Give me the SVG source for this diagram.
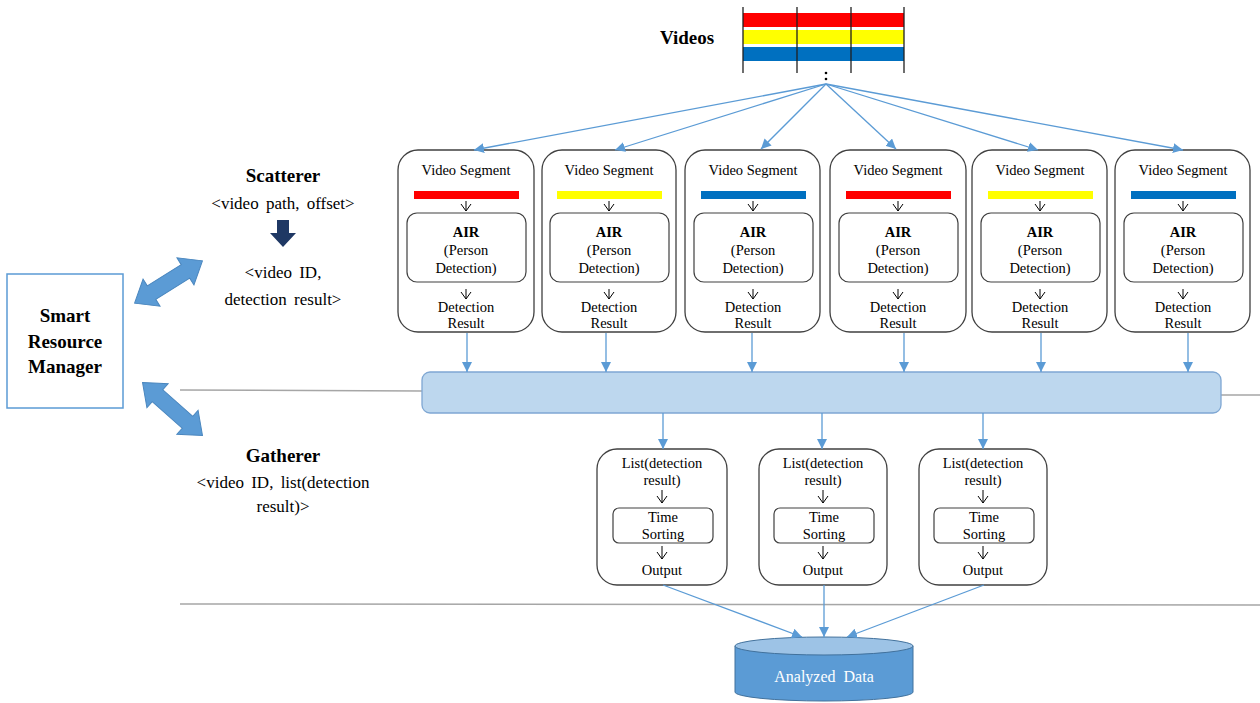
<svg xmlns="http://www.w3.org/2000/svg" width="1260" height="703" viewBox="0 0 1260 703" font-family="'Liberation Serif', 'DejaVu Serif', serif">
  <defs>
    <marker id="tri" viewBox="0 0 10 10" refX="10" refY="5" markerWidth="10" markerHeight="10" markerUnits="userSpaceOnUse" orient="auto">
      <path d="M0,0 L10,5 L0,10 z" fill="#5B9BD5"/>
    </marker>
    <polygon id="dbl" points="-40,0 -20,-16 -20,-8 20,-8 20,-16 40,0 20,16 20,8 -20,8 -20,16" fill="#5B9BD5" stroke="#4A86BE" stroke-width="1"/>
  </defs>
  <style>
    text { font-family: 'Liberation Serif', 'DejaVu Serif', serif; fill: #000; text-anchor: middle; }
    .b { font-weight: bold; }
    .seg { font-size: 14.5px; }
    .lbl { font-size: 17px; word-spacing: 3px; }
    .head { font-size: 19px; font-weight: bold; }
    .box { fill: #fff; stroke: #404040; stroke-width: 1.3; }
    .inner { fill: #fff; stroke: #404040; stroke-width: 1.2; }
    .tick { fill: none; stroke: #000; stroke-width: 1; }
    .conn { stroke: #5B9BD5; stroke-width: 1.3; fill: none; marker-end: url(#tri); }
    .rule { stroke: #A6A6A6; stroke-width: 1.5; fill: none; }
  </style>
  <rect width="1260" height="703" fill="#fff"/>

  <!-- tier separators -->
  <g id="rules">
    <line class="rule" x1="180" y1="390" x2="422" y2="391"/>
    <line class="rule" x1="1221" y1="395" x2="1260" y2="395"/>
    <line class="rule" x1="180" y1="604" x2="1260" y2="605"/>
  </g>

  <!-- video stream strips -->
  <g id="videos">
    <text class="head" x="687" y="44">Videos</text>
    <rect x="743" y="13" width="161" height="14" fill="#FF0000"/>
    <rect x="743" y="30" width="161" height="14" fill="#FFFF00"/>
    <rect x="743" y="47" width="161" height="14" fill="#0070C0"/>
    <g stroke="#202020" stroke-width="1.3">
      <line x1="743" y1="7" x2="743" y2="73"/>
      <line x1="797" y1="7" x2="797" y2="73"/>
      <line x1="851" y1="7" x2="851" y2="73"/>
      <line x1="904" y1="7" x2="904" y2="73"/>
    </g>
    <circle cx="826" cy="73" r="1.3" fill="#000"/>
    <circle cx="826" cy="79" r="1.3" fill="#000"/>
  </g>

  <!-- smart resource manager -->
  <g id="srm">
    <rect x="7" y="274" width="116" height="134" fill="#fff" stroke="#5B9BD5" stroke-width="1.5"/>
    <text class="head" x="65" y="322">Smart</text>
    <text class="head" x="65" y="348">Resource</text>
    <text class="head" x="65" y="373">Manager</text>
  </g>
  <g id="srm-links">
    <use href="#dbl" transform="translate(168.5,282) rotate(-32)"/>
    <use href="#dbl" transform="translate(172.5,409) rotate(41.5)"/>
  </g>

  <!-- scatterer / gatherer descriptions -->
  <g id="scatterer">
    <text class="head" x="283" y="182">Scatterer</text>
    <text class="lbl" x="283" y="209">&lt;video path, offset&gt;</text>
    <polygon points="277,220 289,220 289,233 296,233 283,247 270,233 277,233" fill="#1F3864"/>
    <text class="lbl" x="283" y="278">&lt;video ID,</text>
    <text class="lbl" x="283" y="305">detection result&gt;</text>
  </g>
  <g id="gatherer">
    <text class="head" x="283" y="462">Gatherer</text>
    <text class="lbl" x="283" y="488">&lt;video ID, list(detection</text>
    <text class="lbl" x="283" y="512">result)&gt;</text>
  </g>

  <!-- video segment workers -->
  <g id="seg1" transform="translate(398,0)">
    <rect class="box" x="0" y="150" width="136" height="182" rx="20"/>
    <text class="seg" x="68" y="175">Video Segment</text>
    <rect x="16" y="191" width="105" height="8" fill="#FF0000"/>
    <path class="tick" d="M68,201 V211 M63,204 L68,211 L73,204"/>
    <rect class="inner" x="9" y="213" width="119" height="69" rx="10"/>
    <text class="seg b" x="68" y="237">AIR</text>
    <text class="seg" x="68" y="255">(Person</text>
    <text class="seg" x="68" y="273">Detection)</text>
    <path class="tick" d="M68,289 V299 M63,292 L68,299 L73,292"/>
    <text class="seg" x="68" y="312">Detection</text>
    <text class="seg" x="68" y="328">Result</text>
  </g>
  <g id="seg2" transform="translate(542,0)">
    <rect class="box" x="0" y="150" width="134" height="182" rx="20"/>
    <text class="seg" x="67" y="175">Video Segment</text>
    <rect x="15" y="191" width="105" height="8" fill="#FFFF00"/>
    <path class="tick" d="M67,201 V211 M62,204 L67,211 L72,204"/>
    <rect class="inner" x="8" y="213" width="119" height="69" rx="10"/>
    <text class="seg b" x="67" y="237">AIR</text>
    <text class="seg" x="67" y="255">(Person</text>
    <text class="seg" x="67" y="273">Detection)</text>
    <path class="tick" d="M67,289 V299 M62,292 L67,299 L72,292"/>
    <text class="seg" x="67" y="312">Detection</text>
    <text class="seg" x="67" y="328">Result</text>
  </g>
  <g id="seg3" transform="translate(685,0)">
    <rect class="box" x="0" y="150" width="135" height="182" rx="20"/>
    <text class="seg" x="68" y="175">Video Segment</text>
    <rect x="16" y="191" width="105" height="8" fill="#0070C0"/>
    <path class="tick" d="M68,201 V211 M63,204 L68,211 L73,204"/>
    <rect class="inner" x="9" y="213" width="119" height="69" rx="10"/>
    <text class="seg b" x="68" y="237">AIR</text>
    <text class="seg" x="68" y="255">(Person</text>
    <text class="seg" x="68" y="273">Detection)</text>
    <path class="tick" d="M68,289 V299 M63,292 L68,299 L73,292"/>
    <text class="seg" x="68" y="312">Detection</text>
    <text class="seg" x="68" y="328">Result</text>
  </g>
  <g id="seg4" transform="translate(830,0)">
    <rect class="box" x="0" y="150" width="136" height="182" rx="20"/>
    <text class="seg" x="68" y="175">Video Segment</text>
    <rect x="16" y="191" width="105" height="8" fill="#FF0000"/>
    <path class="tick" d="M68,201 V211 M63,204 L68,211 L73,204"/>
    <rect class="inner" x="9" y="213" width="119" height="69" rx="10"/>
    <text class="seg b" x="68" y="237">AIR</text>
    <text class="seg" x="68" y="255">(Person</text>
    <text class="seg" x="68" y="273">Detection)</text>
    <path class="tick" d="M68,289 V299 M63,292 L68,299 L73,292"/>
    <text class="seg" x="68" y="312">Detection</text>
    <text class="seg" x="68" y="328">Result</text>
  </g>
  <g id="seg5" transform="translate(972,0)">
    <rect class="box" x="0" y="150" width="135" height="182" rx="20"/>
    <text class="seg" x="68" y="175">Video Segment</text>
    <rect x="16" y="191" width="105" height="8" fill="#FFFF00"/>
    <path class="tick" d="M68,201 V211 M63,204 L68,211 L73,204"/>
    <rect class="inner" x="9" y="213" width="119" height="69" rx="10"/>
    <text class="seg b" x="68" y="237">AIR</text>
    <text class="seg" x="68" y="255">(Person</text>
    <text class="seg" x="68" y="273">Detection)</text>
    <path class="tick" d="M68,289 V299 M63,292 L68,299 L73,292"/>
    <text class="seg" x="68" y="312">Detection</text>
    <text class="seg" x="68" y="328">Result</text>
  </g>
  <g id="seg6" transform="translate(1115,0)">
    <rect class="box" x="0" y="150" width="135" height="182" rx="20"/>
    <text class="seg" x="68" y="175">Video Segment</text>
    <rect x="16" y="191" width="105" height="8" fill="#0070C0"/>
    <path class="tick" d="M68,201 V211 M63,204 L68,211 L73,204"/>
    <rect class="inner" x="9" y="213" width="119" height="69" rx="10"/>
    <text class="seg b" x="68" y="237">AIR</text>
    <text class="seg" x="68" y="255">(Person</text>
    <text class="seg" x="68" y="273">Detection)</text>
    <path class="tick" d="M68,289 V299 M63,292 L68,299 L73,292"/>
    <text class="seg" x="68" y="312">Detection</text>
    <text class="seg" x="68" y="328">Result</text>
  </g>

  <!-- shuffle bus -->
  <g id="bus">
    <rect x="422" y="372" width="799" height="41" rx="8" fill="#BDD7EE" stroke="#7FA7D3" stroke-width="1.3"/>
  </g>

  <!-- gather workers -->
  <g id="gather1" transform="translate(597,0)">
    <rect class="box" x="0" y="449" width="130" height="136" rx="20"/>
    <text class="seg" x="65" y="468">List(detection</text>
    <text class="seg" x="65" y="485">result)</text>
    <path class="tick" d="M65,490 V503 M60,496 L65,503 L70,496"/>
    <rect class="inner" x="16" y="508" width="100" height="35" rx="6"/>
    <text class="seg" x="66" y="522">Time</text>
    <text class="seg" x="66" y="539">Sorting</text>
    <path class="tick" d="M65,546 V559 M60,552 L65,559 L70,552"/>
    <text class="seg" x="65" y="575">Output</text>
  </g>
  <g id="gather2" transform="translate(759,0)">
    <rect class="box" x="0" y="449" width="128" height="136" rx="20"/>
    <text class="seg" x="64" y="468">List(detection</text>
    <text class="seg" x="64" y="485">result)</text>
    <path class="tick" d="M64,490 V503 M59,496 L64,503 L69,496"/>
    <rect class="inner" x="15" y="508" width="100" height="35" rx="6"/>
    <text class="seg" x="65" y="522">Time</text>
    <text class="seg" x="65" y="539">Sorting</text>
    <path class="tick" d="M64,546 V559 M59,552 L64,559 L69,552"/>
    <text class="seg" x="64" y="575">Output</text>
  </g>
  <g id="gather3" transform="translate(919,0)">
    <rect class="box" x="0" y="449" width="128" height="136" rx="20"/>
    <text class="seg" x="64" y="468">List(detection</text>
    <text class="seg" x="64" y="485">result)</text>
    <path class="tick" d="M64,490 V503 M59,496 L64,503 L69,496"/>
    <rect class="inner" x="15" y="508" width="100" height="35" rx="6"/>
    <text class="seg" x="65" y="522">Time</text>
    <text class="seg" x="65" y="539">Sorting</text>
    <path class="tick" d="M64,546 V559 M59,552 L64,559 L69,552"/>
    <text class="seg" x="64" y="575">Output</text>
  </g>

  <!-- result store -->
  <g id="analyzed-data">
    <path d="M735,646 V692 A89,9 0 0 0 913,692 V646 Z" fill="#5B9BD5" stroke="#41719C" stroke-width="1"/>
    <ellipse cx="824" cy="646" rx="89" ry="9" fill="#9DC3E6" stroke="#41719C" stroke-width="1"/>
    <text x="824" y="682" style="fill:#fff;font-size:16px;word-spacing:4px">Analyzed Data</text>
  </g>

  <!-- connectors -->
  <g id="connectors">
    <line class="conn" x1="826" y1="84" x2="474" y2="150"/>
    <line class="conn" x1="826" y1="84" x2="615" y2="150"/>
    <line class="conn" x1="826" y1="84" x2="761" y2="149"/>
    <line class="conn" x1="826" y1="84" x2="896" y2="149"/>
    <line class="conn" x1="826" y1="84" x2="1038" y2="150"/>
    <line class="conn" x1="826" y1="84" x2="1183" y2="150"/>

    <line class="conn" x1="467" y1="333" x2="467" y2="372"/>
    <line class="conn" x1="606" y1="333" x2="606" y2="372"/>
    <line class="conn" x1="752" y1="333" x2="752" y2="372"/>
    <line class="conn" x1="904" y1="333" x2="904" y2="372"/>
    <line class="conn" x1="1041" y1="333" x2="1041" y2="372"/>
    <line class="conn" x1="1188" y1="333" x2="1188" y2="372"/>

    <line class="conn" x1="663" y1="413" x2="663" y2="449"/>
    <line class="conn" x1="822" y1="413" x2="822" y2="449"/>
    <line class="conn" x1="983" y1="413" x2="983" y2="449"/>

    <line class="conn" x1="663" y1="585" x2="802" y2="637"/>
    <line class="conn" x1="824" y1="585" x2="824" y2="637"/>
    <line class="conn" x1="984" y1="585" x2="847" y2="637"/>
  </g>
</svg>
